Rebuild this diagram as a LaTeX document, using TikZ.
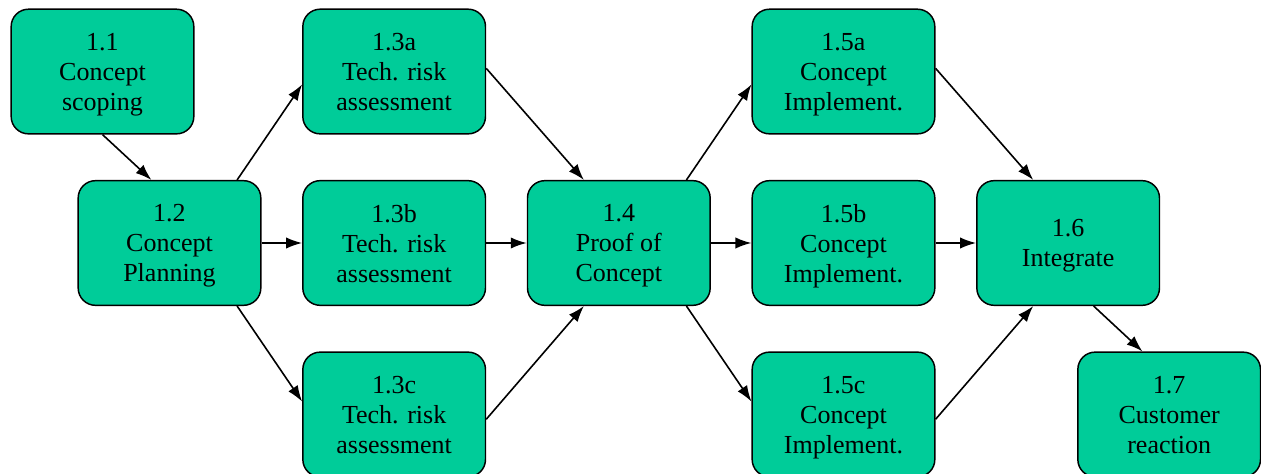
\documentclass[tikz,border=0pt]{standalone}
\usepackage{fontspec}
\setmainfont{Liberation Serif}
\usetikzlibrary{positioning,arrows.meta}
\definecolor{taskgreen}{RGB}{0,204,153}
\tikzset{
  task/.style={rectangle, rounded corners=13pt, draw=black, line width=1.1pt, fill=taskgreen,
    minimum width=137pt, minimum height=93.5pt, align=center, text depth=0pt,
    execute at begin node={\vspace*{3.5pt}},
    font=\fontsize{19.5}{22.5}\selectfont},
  connect/.style={-{Latex[length=12pt,width=8.5pt]}, line width=1.2pt}
}

\begin{document}
\begin{tikzpicture}[node distance=34pt and 30.4pt]
  \useasboundingbox (-127.125pt,-173.25pt) rectangle (818.625pt,182.25pt);

  % Scoping and planning
  \node[task] (n12) at (0,0) {1.2\\Concept\\Planning};
  \node[task] (n11) [above=of n12, xshift=-50.25pt] {1.1\\Concept\\scoping};
  \path (n11.south) edge [connect] (n12.106);

  % Risk assessments
  \node[task] (mid13) [right=of n12] {1.3b\\Tech. risk\\assessment};
  \node[task] (top13) [above=of mid13] {1.3a\\Tech. risk\\assessment};
  \node[task] (bot13) [below=of mid13] {1.3c\\Tech. risk\\assessment};

  \node[task] (n14) [right=of mid13] {1.4\\Proof of\\Concept};

  % Implementations
  \node[task] (mid15) [right=of n14] {1.5b\\Concept\\Implement.};
  \node[task] (top15) [above=of mid15] {1.5a\\Concept\\Implement.};
  \node[task] (bot15) [below=of mid15] {1.5c\\Concept\\Implement.};

  \node[task] (n16) [right=of mid15] {1.6\\Integrate};
  \node[task] (n17) [below=of n16, xshift=75.75pt] {1.7\\Customer\\reaction};

  % fan out and back in for both groups
  \foreach \g/\from/\to in {13/n12/n14, 15/n14/n16} {
    \path (\from.43) edge [connect] (top\g.188);
    \path (\from.east) edge [connect] (mid\g.west);
    \path (\from.317) edge [connect] (bot\g.172);
    \path (top\g.2) edge [connect] (\to.119);
    \path (mid\g.east) edge [connect] (\to.west);
    \path (bot\g.357) edge [connect] (\to.241);
  }

  \path (n16.292) edge [connect] (n17.113);
\end{tikzpicture}
\end{document}
